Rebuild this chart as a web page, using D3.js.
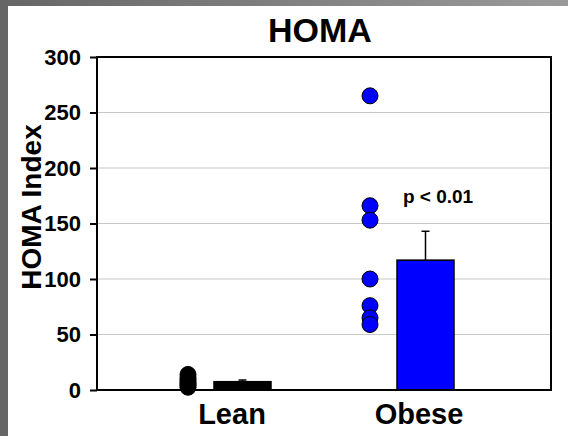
<!DOCTYPE html>
<meta charset="utf-8">
<style>
  body { margin: 0; background: #fff; }
  text { font-family: "Liberation Sans", Arial, sans-serif; font-weight: bold; fill: #000; }
</style>
<body>
<script src="https://cdn.jsdelivr.net/npm/d3@7"></script>
<script>

    var groups = ["Lean", "Obese"];
    var colors = ["#000000", "#0000ff"];
    var points = [
        [2.5, 4, 5.5, 7, 9, 11, 14],
        [265, 166, 153, 100, 76, 65, 59]
    ];
    var means = [7.5, 117];
    var errors = [1.5, 26];
    var yTicks = [0, 50, 100, 150, 200, 250, 300];

    var w = 568, h = 436;
    var margin = {top: 57, right: 17, bottom: 46, left: 97};

    var svg = d3.select("body")
            .append("svg")
            .attr("width", w)
            .attr("height", h);

    // gray frame on the left and top
    var grad = svg.append("defs").append("linearGradient")
            .attr("id", "topband");
    grad.append("stop").attr("offset", "0%").attr("stop-color", "#666");
    grad.append("stop").attr("offset", "100%").attr("stop-color", "#9a9a9a");
    svg.append("rect").attr("x", 0).attr("y", 0).attr("width", w).attr("height", 6)
            .attr("fill", "url(#topband)");
    svg.append("rect").attr("x", 0).attr("y", 0).attr("width", 8).attr("height", h)
            .attr("fill", "#666");

    var x0 = margin.left, x1 = w - margin.right;
    var y = d3.scaleLinear().domain([0, 300]).range([h - margin.bottom, margin.top]);

    // x positions: dots column and bar for each group
    var dotX = d3.scaleOrdinal().domain(groups).range([188, 370]);
    var barX = d3.scaleOrdinal().domain(groups).range([214, 397]);
    var barW = 57;
    var labelX = d3.scaleOrdinal().domain(groups).range([232, 419]);

    // gridlines
    svg.append("g")
            .selectAll("line")
            .data(yTicks.slice(1, -1))
            .enter()
            .append("line")
            .attr("x1", x0).attr("x2", x1)
            .attr("y1", function(d) { return y(d); })
            .attr("y2", function(d) { return y(d); })
            .attr("stroke", "#c8c8c8")
            .attr("stroke-width", 1.2);

    // bars
    svg.selectAll("rect.bar")
            .data(groups)
            .enter()
            .append("rect")
            .attr("class", "bar")
            .attr("x", function(d) { return barX(d); })
            .attr("y", function(d, i) { return y(means[i]); })
            .attr("width", barW)
            .attr("height", function(d, i) { return y(0) - y(means[i]); })
            .attr("fill", function(d, i) { return colors[i]; })
            .attr("stroke", "#000")
            .attr("stroke-width", 1.5);

    // error bars (upper only)
    groups.forEach(function(g, i) {
        var cx = barX(g) + barW / 2;
        var e = svg.append("g").attr("stroke", "#000").attr("stroke-width", 1.5);
        e.append("line").attr("x1", cx).attr("x2", cx)
                .attr("y1", y(means[i])).attr("y2", y(means[i] + errors[i]));
        e.append("line").attr("x1", cx - 4).attr("x2", cx + 4)
                .attr("y1", y(means[i] + errors[i])).attr("y2", y(means[i] + errors[i]));
    });

    // individual points
    groups.forEach(function(g, i) {
        svg.append("g")
                .selectAll("circle")
                .data(points[i])
                .enter()
                .append("circle")
                .attr("cx", dotX(g))
                .attr("cy", function(d) { return y(d); })
                .attr("r", 8)
                .attr("fill", colors[i])
                .attr("stroke", "#000")
                .attr("stroke-width", 1);
    });

    // frame
    svg.append("rect")
            .attr("x", x0).attr("y", y(300))
            .attr("width", x1 - x0).attr("height", y(0) - y(300))
            .attr("fill", "none")
            .attr("stroke", "#000")
            .attr("stroke-width", 2);

    // y axis
    var yAxis = svg.append("g")
            .attr("transform", "translate(" + x0 + ",0)")
            .call(d3.axisLeft(y).tickValues(yTicks).tickSize(7).tickPadding(9));
    yAxis.select(".domain").remove();
    yAxis.selectAll(".tick line").attr("stroke", "#000").attr("stroke-width", 2);
    yAxis.selectAll(".tick text")
            .style("font-family", "'Liberation Sans', Arial, sans-serif")
            .style("font-weight", "bold")
            .style("font-size", "22px")
            .attr("fill", "#000");

    // x labels
    svg.selectAll("text.xlab")
            .data(groups)
            .enter()
            .append("text")
            .attr("class", "xlab")
            .attr("x", function(d) { return labelX(d); })
            .attr("y", 424)
            .attr("text-anchor", "middle")
            .style("font-size", "29px")
            .text(function(d) { return d; });

    // title
    svg.append("text")
            .attr("x", 320)
            .attr("y", 42)
            .attr("text-anchor", "middle")
            .style("font-size", "34px")
            .text("HOMA");

    // y label
    svg.append("text")
            .attr("transform", "translate(41,207) rotate(-90)")
            .attr("text-anchor", "middle")
            .style("font-size", "28px")
            .text("HOMA Index");

    // significance
    svg.append("text")
            .attr("x", 438)
            .attr("y", 203)
            .attr("text-anchor", "middle")
            .style("font-size", "19px")
            .text("p < 0.01");

</script>
